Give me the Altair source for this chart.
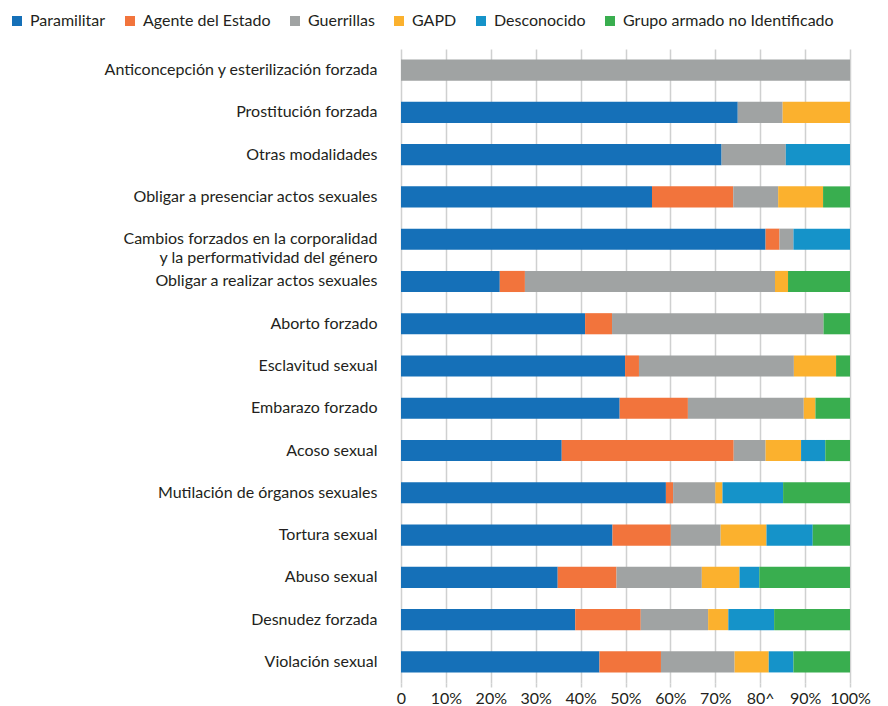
import altair as alt
import pandas as pd

categories = [
    "Anticoncepción y esterilización forzada",
    "Prostitución forzada",
    "Otras modalidades",
    "Obligar a presenciar actos sexuales",
    "Cambios forzados en la corporalidad y la performatividad del género",
    "Obligar a realizar actos sexuales",
    "Aborto forzado",
    "Esclavitud sexual",
    "Embarazo forzado",
    "Acoso sexual",
    "Mutilación de órganos sexuales",
    "Tortura sexual",
    "Abuso sexual",
    "Desnudez forzada",
    "Violación sexual",
]

series = ["Paramilitar", "Agente del Estado", "Guerrillas", "GAPD",
          "Desconocido", "Grupo armado no Identificado"]
colors = ["#1570b8", "#f2743c", "#a0a3a3", "#fbb12e", "#1593c9", "#39ae4f"]

paramilitar = [0, 75.0, 71.4, 55.9, 81.2, 22.0, 41.0, 49.9, 48.7, 35.8, 59.0, 47.1, 34.9, 38.8, 44.2]
agente      = [0, 0, 0, 18.1, 3.1, 5.6, 6.0, 3.1, 15.2, 38.3, 1.6, 13.0, 13.1, 14.6, 13.7]
guerrillas  = [100, 10.0, 14.3, 10.0, 3.1, 55.7, 47.1, 34.5, 25.8, 7.1, 9.4, 11.1, 19.0, 15.0, 16.4]
gapd        = [0, 15.0, 0, 10.0, 0, 2.9, 0, 9.4, 2.6, 7.9, 1.6, 10.2, 8.4, 4.5, 7.6]
desconocido = [0, 0, 14.3, 0, 12.6, 0, 0, 0, 0, 5.4, 13.5, 10.3, 4.4, 10.2, 5.5]
grupo       = [0, 0, 0, 6.0, 0, 13.8, 5.9, 3.1, 7.7, 5.5, 14.9, 8.3, 20.2, 16.9, 12.6]

tick_labels = ["0", "10%", "20%", "30%", "40%", "50%", "60%", "70%", "80^", "90%", "100%"]

values_by_series = [paramilitar, agente, guerrillas, gapd, desconocido, grupo]
rows = []
for si, (s, vals) in enumerate(zip(series, values_by_series)):
    for c, v in zip(categories, vals):
        rows.append({"categoria": c, "actor": s, "valor": v, "orden": si})
df = pd.DataFrame(rows)

long_cat = categories[4]
y_label_expr = (
    f"datum.label == '{long_cat}' ? "
    "['Cambios forzados en la corporalidad', 'y la performatividad del género'] : datum.label"
)
x_label_expr = "[" + ", ".join(f"'{t}'" for t in tick_labels) + "][round(datum.value * 10)]"

FONT = "Lato"
FS = 16
TXT = "#231f20"
GRID = "#cfd0d0"

chart = alt.Chart(df).mark_bar().encode(
    y=alt.Y("categoria:N", sort=categories, title=None,
            scale=alt.Scale(paddingInner=0.5, paddingOuter=0.25),
            axis=alt.Axis(ticks=False, domain=False, labelPadding=24,
                          labelFontSize=FS, labelFont=FONT, labelColor=TXT,
                          labelLimit=400, labelLineHeight=19, labelExpr=y_label_expr)),
    x=alt.X("valor:Q", stack="normalize", title=None,
            scale=alt.Scale(domain=[0, 1], nice=False),
            axis=alt.Axis(values=[i / 10 for i in range(11)], domain=False,
                          grid=True, gridColor=GRID, gridWidth=1.5,
                          ticks=True, tickSize=4, tickColor=GRID, tickWidth=1.5,
                          labelPadding=3, labelFontSize=FS, labelFont=FONT,
                          labelColor=TXT, labelExpr=x_label_expr, labelFlush=False)),
    color=alt.Color("actor:N", sort=series,
                    scale=alt.Scale(domain=series, range=colors),
                    legend=alt.Legend(title=None, orient="none", direction="horizontal",
                                      legendX=-392, legendY=-36,
                                      symbolType="square", symbolSize=100,
                                      symbolStrokeWidth=0, labelOffset=5,
                                      columnPadding=16, labelFontSize=FS,
                                      labelFont=FONT, labelColor=TXT, labelLimit=400)),
    order=alt.Order("orden:Q"),
).properties(
    width=449, height=634,
    autosize=alt.AutoSizeParams(type="none"),
    padding={"left": 393, "top": 41, "right": 30, "bottom": 22},
).configure_view(stroke=None)

chart.save("out.html", embed_options={"renderer": "svg", "actions": False})
